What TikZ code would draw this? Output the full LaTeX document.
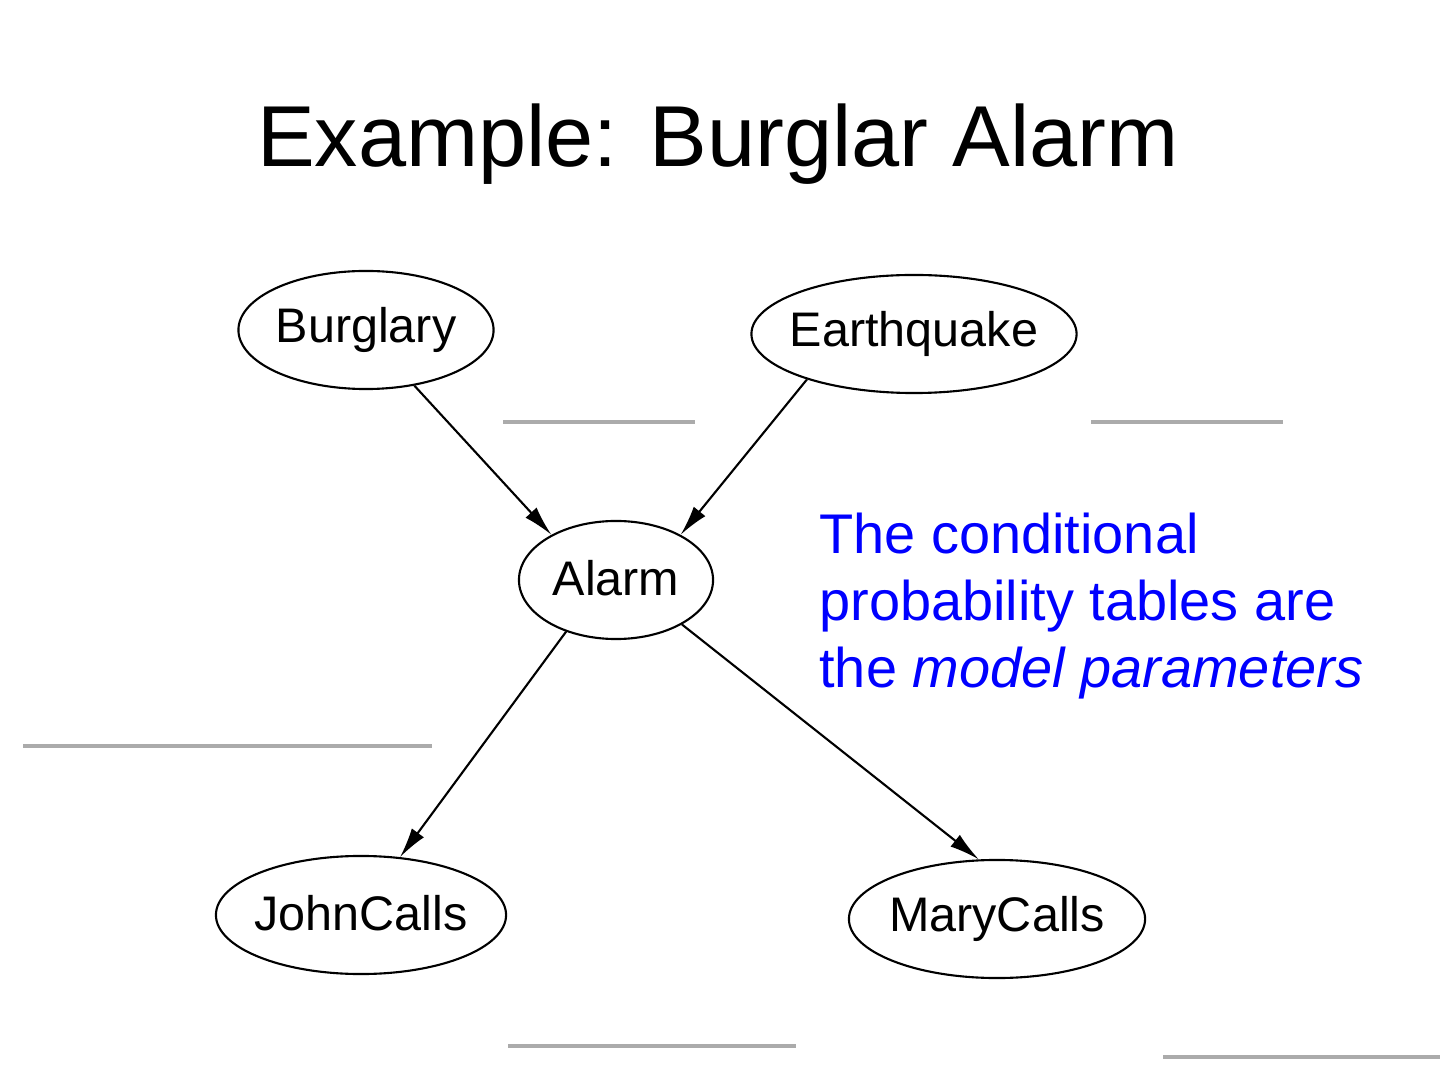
\documentclass[tikz,border=0pt]{standalone}
\usepackage{fontspec}
\setmainfont{Liberation Sans}
\usepackage{tikz}
\usetikzlibrary{arrows.meta,shapes.geometric}

\begin{document}
\begin{tikzpicture}[x = 0.01cm, y = -0.01cm,
    var/.style = {draw, ellipse, line width = 0.6pt, inner sep = 0pt, minimum height = 1.18cm, font = \fontsize{13.8}{15}\selectfont},
    dep/.style = {draw, line width = 0.6pt, -{Latex[length = 3mm, width = 1.5mm]}},
    blank/.style = {draw, line width = 0.9pt, color = black!33}]
                \useasboundingbox (0,0) rectangle (1440,1080);
                \node (title) at (718,144) {\fontsize{24.6}{28}\selectfont Example: Burglar Alarm};
                \node[var, minimum width = 2.55cm] (burglary) at (366,330) {\makebox[0pt]{\raisebox{1.2pt}{Burglary}}};
                \node[var, minimum width = 3.25cm] (earthquake) at (914,334) {\makebox[0pt]{\raisebox{1.2pt}{Earthquake}}};
                \node[var, minimum width = 1.94cm] (alarm) at (616,580) {\makebox[0pt]{\raisebox{1.2pt}{Alarm}}};
                \node[var, minimum width = 2.90cm] (john) at (361,915) {\makebox[0pt]{\raisebox{1.2pt}{JohnCalls}}};
                \node[var, minimum width = 2.96cm] (mary) at (997,919) {\makebox[0pt]{\raisebox{1.2pt}{MaryCalls}}};
                \path[dep] (burglary.-49) to (alarm.145);
                \path[dep] (earthquake.203) to (alarm.35);
                \path[dep] (alarm.226) to (john.56);
                \path[dep] (alarm.-34) to (mary.107);
                \node[anchor = north west, align = left, text = blue, font = \fontsize{15.9}{19}\selectfont] (note) at (807,501) {The conditional\\probability tables are\\the \textit{model parameters}};
                \path[blank] (503,422) to (695,422);
                \path[blank] (1091,422) to (1283,422);
                \path[blank] (23,746) to (432,746);
                \path[blank] (508,1046) to (796,1046);
                \path[blank] (1163,1057) to (1440,1057);
            \end{tikzpicture}
\end{document}
